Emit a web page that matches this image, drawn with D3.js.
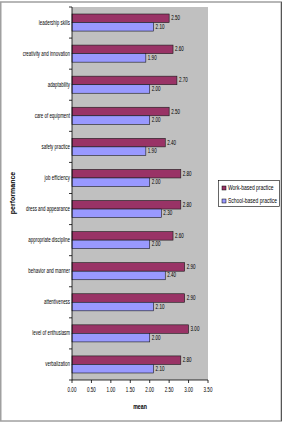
<!DOCTYPE html>
<html>
<head>
<meta charset="utf-8">
<script src="https://cdn.jsdelivr.net/npm/d3@7/dist/d3.min.js"></script>
<style>
  body { margin: 0; background: #fff; }
  svg { display: block; }
  text { font-family: "Liberation Sans", Arial, sans-serif; fill: #000; }
</style>
</head>
<body>
<svg id="chart" width="285" height="425"></svg>
<script>
const categories = [
  "leadership skills", "creativity and innovation", "adaptability", "care of equipment",
  "safety practice", "job efficiency", "dress and appearance", "appropriate discipline",
  "behavior and manner", "attentiveness", "level of enthusiasm", "verbalization"
];
const workBased = [2.5, 2.6, 2.7, 2.5, 2.4, 2.8, 2.8, 2.6, 2.9, 2.9, 3.0, 2.8];
const schoolBased = [2.1, 1.9, 2.0, 2.0, 1.9, 2.0, 2.3, 2.0, 2.4, 2.1, 2.0, 2.1];
const seriesNames = ["Work-based practice", "School-based practice"];
const xTicks = [0, 0.5, 1, 1.5, 2, 2.5, 3, 3.5];

const colors = ["#993366", "#9999ff"];
const svg = d3.select("#chart");

// outer frame
svg.append("rect").attr("x", 0.75).attr("y", 2).attr("width", 280.5).attr("height", 419)
  .attr("fill", "#fff").attr("stroke", "#a0a0a0").attr("stroke-width", 1.5);
svg.append("line").attr("x1", 281.5).attr("x2", 281.5).attr("y1", 2).attr("y2", 421)
  .attr("stroke", "#555").attr("stroke-width", 1);

const plot = { left: 72, right: 208, top: 7, bottom: 380 };

const x = d3.scaleLinear().domain([0, 3.5]).range([plot.left, plot.right]);
const y = d3.scaleBand().domain(categories).range([plot.top, plot.bottom]).paddingInner(0).paddingOuter(0);
const inner = d3.scaleBand().domain([0, 1]).range([0, y.bandwidth()]).paddingOuter(0.82).paddingInner(0);

svg.append("rect").attr("x", plot.left).attr("y", plot.top)
  .attr("width", plot.right - plot.left).attr("height", plot.bottom - plot.top)
  .attr("fill", "#c0c0c0");

const series = [workBased, schoolBased];
series.forEach((vals, s) => {
  const g = svg.append("g");
  g.selectAll("rect").data(vals).enter().append("rect")
    .attr("x", x(0))
    .attr("y", (d, i) => y(categories[i]) + inner(s))
    .attr("width", d => x(d) - x(0))
    .attr("height", inner.bandwidth())
    .attr("fill", colors[s])
    .attr("stroke", "#1a1a1a").attr("stroke-width", 0.6);
  g.selectAll("text").data(vals).enter().append("text")
    .attr("transform", (d, i) => `translate(${x(d) + 2},${y(categories[i]) + inner(s) + inner.bandwidth() / 2 + 2}) scale(0.7,1)`)
    .attr("font-size", 6.5)
    .text(d => d.toFixed(2));
});

// y axis
const yAxis = svg.append("g");
yAxis.append("line").attr("x1", plot.left).attr("x2", plot.left)
  .attr("y1", plot.top).attr("y2", plot.bottom).attr("stroke", "#000").attr("stroke-width", 0.8);
yAxis.selectAll("line.tick").data(d3.range(categories.length + 1)).enter().append("line")
  .attr("class", "tick")
  .attr("x1", plot.left - 3).attr("x2", plot.left)
  .attr("y1", i => plot.top + i * y.step()).attr("y2", i => plot.top + i * y.step())
  .attr("stroke", "#000").attr("stroke-width", 0.8);
yAxis.selectAll("text").data(categories).enter().append("text")
  .attr("transform", d => `translate(${plot.left - 2},${y(d) + y.bandwidth() / 2 + 2}) scale(0.68,1)`)
  .attr("text-anchor", "end")
  .attr("font-size", 6.5)
  .text(d => d);

// x axis
const xAxis = svg.append("g");
xAxis.append("line").attr("x1", plot.left).attr("x2", plot.right)
  .attr("y1", plot.bottom).attr("y2", plot.bottom).attr("stroke", "#000").attr("stroke-width", 0.8);
xAxis.selectAll("line.tick").data(xTicks).enter().append("line")
  .attr("class", "tick")
  .attr("x1", d => x(d)).attr("x2", d => x(d))
  .attr("y1", plot.bottom).attr("y2", plot.bottom + 3)
  .attr("stroke", "#000").attr("stroke-width", 0.8);
xAxis.selectAll("text").data(xTicks).enter().append("text")
  .attr("transform", d => `translate(${x(d)},${plot.bottom + 12}) scale(0.7,1)`)
  .attr("text-anchor", "middle")
  .attr("font-size", 6.5)
  .text(d => d.toFixed(2));

// axis titles
svg.append("text")
  .attr("transform", `translate(${(plot.left + plot.right) / 2},${plot.bottom + 29}) scale(0.75,1)`)
  .attr("text-anchor", "middle").attr("font-size", 7).attr("font-weight", "bold")
  .text("mean");
svg.append("text")
  .attr("transform", `translate(15,193) rotate(-90)`)
  .attr("text-anchor", "middle").attr("font-size", 7).attr("font-weight", "bold")
  .text("performance");

// legend
const legend = svg.append("g").attr("transform", "translate(218.5,180.5)");
legend.append("rect").attr("width", 61).attr("height", 26)
  .attr("fill", "#fff").attr("stroke", "#000").attr("stroke-width", 0.6);
seriesNames.forEach((name, i) => {
  const row = legend.append("g").attr("transform", `translate(3.5,${7.5 + i * 13})`);
  row.append("rect").attr("x", 0).attr("y", -2).attr("width", 4).attr("height", 4)
    .attr("fill", colors[i]).attr("stroke", "#000").attr("stroke-width", 0.5);
  row.append("text").attr("transform", "translate(6,2.3) scale(0.71,1)")
    .attr("font-size", 7).text(name);
});
</script>
</body>
</html>
